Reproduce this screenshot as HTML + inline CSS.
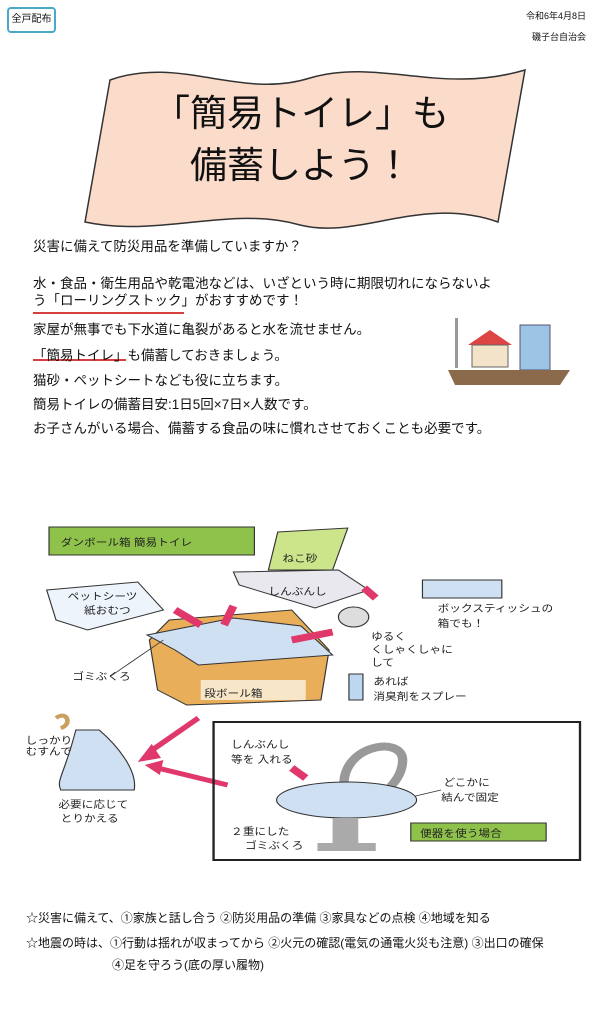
<!DOCTYPE html>
<html><head><meta charset="utf-8"><style>
body{margin:0;width:602px;height:1024px;background:#fff;position:relative;overflow:hidden;font-family:"Liberation Sans","Noto Sans CJK JP",sans-serif;color:#111}
.a{position:absolute;white-space:nowrap}
.t{font-size:13.5px;left:33px}
.h{font-family:"Liberation Sans","Noto Sans CJK JP",sans-serif;font-size:10px;fill:#222}
</style></head><body>
<div class="a" style="left:7px;top:7px;width:45px;height:22px;border:2px solid #4aa9c9;border-radius:4px;font-size:10px;line-height:22px;text-align:center">全戸配布</div>
<div class="a" style="right:16px;top:9px;font-size:9px">令和6年4月8日</div>
<div class="a" style="right:16px;top:30px;font-size:9px">磯子台自治会</div>
<svg class="a" style="left:0;top:0" width="602" height="1024">
<path d="M110,80 C180,55 240,100 310,78 C380,58 440,95 525,70 L498,222 C420,195 360,240 300,225 C230,205 160,238 85,222 Z" fill="#fbdccb" stroke="#333" stroke-width="1.5"/>
<line x1="33" y1="313" x2="184" y2="313" stroke="#c00" stroke-width="1.5"/>
<line x1="33" y1="360" x2="126" y2="360" stroke="#c00" stroke-width="1.5"/>
<rect x="455" y="318" width="3" height="50" fill="#999"/>
<rect x="520" y="325" width="30" height="45" fill="#9cc4e4" stroke="#557"/>
<polygon points="468,345 490,330 512,345" fill="#d44"/>
<rect x="472" y="345" width="36" height="22" fill="#f3e3c8" stroke="#666"/>
<path d="M448,370 L570,370 L560,385 L455,385Z" fill="#8a6a4a"/>
<g transform="scale(1.167,1)">
<rect x="42" y="527" width="176" height="28" fill="#8fc24a" stroke="#333"/>
<text x="52" y="546" font-size="14" class="h">ダンボール箱 簡易トイレ</text>
<polygon points="238,532 298,528 285,570 230,570" fill="#cde58a" stroke="#333"/>
<text x="242" y="562" font-size="11" class="h">ねこ砂</text>
<polygon points="200,572 290,570 316,590 270,608 205,585" fill="#e8e8ee" stroke="#333"/>
<text x="230" y="595" font-size="12" class="h">しんぶんし</text>
<polygon points="40,590 118,582 140,610 75,630 48,620" fill="#eef4fb" stroke="#333"/>
<text x="58" y="600" font-size="9" class="h">ペットシーツ</text>
<text x="72" y="614" font-size="10" class="h">紙おむつ</text>
<polygon points="128,640 145,620 250,610 282,650 275,700 160,705 135,690" fill="#e9ae5a" stroke="#333"/>
<path d="M126,635 L200,618 L258,626 L285,655 L170,665 L150,650Z" fill="#cfe0f3" stroke="#333"/>
<rect x="172" y="680" width="90" height="20" fill="#f7e6c8"/>
<text x="175" y="697" font-size="13" class="h">段ボール箱</text>
<text x="62" y="680" font-size="11" class="h">ゴミぶくろ</text>
<line x1="95" y1="676" x2="140" y2="640" stroke="#333" stroke-width="0.8"/>
<path d="M150,610 L172,625 M200,606 L192,625 M285,632 L250,640 M312,588 L322,598" stroke="#e0386a" stroke-width="7"/>
<rect x="362" y="580" width="68" height="18" fill="#cfe0f3" stroke="#333"/>
<text x="375" y="612" font-size="9" class="h">ボックスティッシュの</text>
<text x="375" y="627" font-size="10" class="h">箱でも！</text>
<ellipse cx="303" cy="617" rx="13" ry="10" fill="#ddd" stroke="#333"/>
<text x="318" y="640" class="h">ゆるく</text>
<text x="318" y="653" class="h">くしゃくしゃに</text>
<text x="318" y="666" class="h">して</text>
<rect x="299" y="674" width="12" height="26" fill="#bcd7ef" stroke="#333"/>
<text x="320" y="685" class="h">あれば</text>
<text x="320" y="700" class="h">消臭剤をスプレー</text>
<path d="M65,730 C55,775 48,780 52,790 L115,790 C118,770 100,745 85,730Z" fill="#cfe0f3" stroke="#333"/>
<path d="M48,718 C58,710 62,725 52,728" fill="none" stroke="#c9a060" stroke-width="4"/>
<text x="22" y="744" font-size="9" class="h">しっかり</text>
<text x="22" y="755" font-size="9" class="h">むすんで</text>
<text x="50" y="808" class="h">必要に応じて</text>
<text x="52" y="822" class="h">とりかえる</text>
<path d="M170,718 L128,752 M195,785 L135,768" stroke="#e0386a" stroke-width="5" fill="none"/>
<polygon points="118,762 130,744 138,758" fill="#e0386a"/>
<polygon points="124,765 140,760 137,775" fill="#e0386a"/>
<rect x="183" y="722" width="314" height="138" fill="none" stroke="#222" stroke-width="2"/>
<text x="198" y="748" class="h">しんぶんし</text>
<text x="198" y="763" class="h">等を 入れる</text>
<path d="M250,768 L262,778" stroke="#e0386a" stroke-width="7"/>
<path d="M295,790 C290,745 345,735 345,760 C345,780 330,790 325,800" fill="none" stroke="#999" stroke-width="8"/>
<ellipse cx="297" cy="800" rx="60" ry="18" fill="#cfe0f3" stroke="#333"/>
<rect x="285" y="818" width="22" height="25" fill="#aaa"/>
<rect x="272" y="843" width="50" height="8" fill="#aaa"/>
<text x="380" y="786" class="h">どこかに</text>
<text x="378" y="801" class="h">結んで固定</text>
<line x1="356" y1="796" x2="378" y2="790" stroke="#333" stroke-width="0.8"/>
<text x="198" y="835" class="h">２重にした</text>
<text x="210" y="849" class="h">ゴミぶくろ</text>
<rect x="352" y="823" width="116" height="18" fill="#8fc24a" stroke="#333"/>
<text x="360" y="837" font-size="12" class="h">便器を使う場合</text>
</g>
</svg>
<div class="a" style="left:0;width:602px;top:88px;text-align:center;font-size:37px;line-height:52px">「簡易トイレ」も<br>備蓄しよう！</div>
<div class="a t" style="top:235px">災害に備えて防災用品を準備していますか？</div>
<div class="a t" style="top:275px;line-height:17px">水・食品・衛生用品や乾電池などは、いざという時に期限切れにならないよ<br>う「ローリングストック」がおすすめです！</div>
<div class="a t" style="top:318px">家屋が無事でも下水道に亀裂があると水を流せません。</div>
<div class="a t" style="top:344px">「簡易トイレ」も備蓄しておきましょう。</div>
<div class="a t" style="top:369px">猫砂・ペットシートなども役に立ちます。</div>
<div class="a t" style="top:393px">簡易トイレの備蓄目安:1日5回×7日×人数です。</div>
<div class="a t" style="top:417px">お子さんがいる場合、備蓄する食品の味に慣れさせておくことも必要です。</div>
<div class="a" style="left:26px;top:909px;font-size:12px">☆災害に備えて、①家族と話し合う ②防災用品の準備 ③家具などの点検 ④地域を知る</div>
<div class="a" style="left:26px;top:934px;font-size:12px">☆地震の時は、①行動は揺れが収まってから ②火元の確認(電気の通電火災も注意) ③出口の確保</div>
<div class="a" style="left:112px;top:956px;font-size:12px">④足を守ろう(底の厚い履物)</div>
</body></html>
